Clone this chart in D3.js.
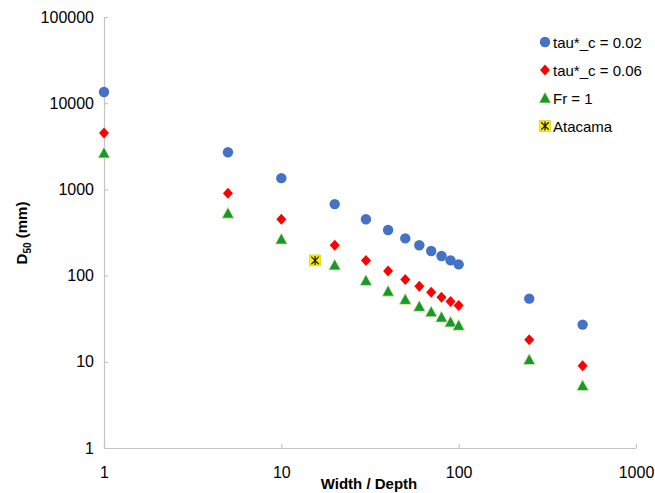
<!DOCTYPE html>
<html>
<head>
<meta charset="utf-8">
<script src="https://cdn.jsdelivr.net/npm/d3@7"></script>
<style>
  html, body { margin: 0; padding: 0; background: #fff; }
  svg { display: block; font-family: "Liberation Sans", Arial, sans-serif; }
</style>
</head>
<body>
<svg id="chart" width="655" height="493"></svg>
<script>
const widthDepth = [1, 5, 10, 20, 30, 40, 50, 60, 70, 80, 90, 100, 250, 500];
const tau002 = [13500, 2700, 1350, 675, 450, 338, 270, 225, 193, 169, 150, 135, 54, 27];
const tau006 = [4500, 900, 450, 225, 150, 113, 90, 75, 64, 56, 50, 45, 18, 9];
const fr1 = [2650, 530, 265, 133, 88, 66, 53, 44, 38, 33, 29, 26.5, 10.6, 5.3];
const atacamaX = [15.5];
const atacamaY = [150];
const xTicks = [1, 10, 100, 1000];
const yTicks = [1, 10, 100, 1000, 10000, 100000];
const seriesNames = ["tau*_c = 0.02", "tau*_c = 0.06", "Fr = 1", "Atacama"];

const svg = d3.select("#chart");
const x = d3.scaleLog().domain([1, 1000]).range([104, 636]);
const y = d3.scaleLog().domain([1, 100000]).range([448, 17]);
const axisColor = "#c8c3c3";

// axes
const xAxis = svg.append("g").attr("transform", "translate(0,448)")
  .call(d3.axisBottom(x).tickValues(xTicks).tickFormat(d3.format("d")).tickSizeInner(-4).tickSizeOuter(0).tickPadding(16));
const yAxis = svg.append("g").attr("transform", "translate(104,0)")
  .call(d3.axisLeft(y).tickValues(yTicks).tickFormat(d3.format("d")).tickSizeInner(-4).tickSizeOuter(0).tickPadding(10));
[xAxis, yAxis].forEach(g => {
  g.select(".domain").attr("stroke", axisColor).attr("stroke-width", 1.2);
  g.selectAll(".tick line").attr("stroke", axisColor).attr("stroke-width", 1.2);
  g.selectAll(".tick text").attr("fill", "#000").style("font-size", "16px")
    .style("font-family", "'Liberation Sans', Arial, sans-serif");
});
xAxis.selectAll(".tick text").attr("dy", "0.9em");

// titles
svg.append("text").attr("x", 369).attr("y", 489).attr("text-anchor", "middle")
  .style("font-size", "15px").style("font-weight", "bold").text("Width / Depth");
const yt = svg.append("text").attr("transform", "translate(27,233) rotate(-90)")
  .attr("text-anchor", "middle").style("font-size", "15px").style("font-weight", "bold");
yt.append("tspan").text("D");
yt.append("tspan").attr("dy", 4).style("font-size", "10px").text("50");
yt.append("tspan").attr("dy", -4).text(" (mm)");

// marker draws
const blue = "#4472c4", red = "#ff0000", green = "#159a2b";
function circle(g, cx, cy) {
  g.append("circle").attr("cx", cx).attr("cy", cy).attr("r", 5.2).attr("fill", blue);
}
function diamond(g, cx, cy) {
  g.append("path").attr("d", `M${cx},${cy-5.5}L${cx+5},${cy}L${cx},${cy+5.5}L${cx-5},${cy}Z`).attr("fill", red);
}
function triangle(g, cx, cy) {
  g.append("path").attr("d", `M${cx},${cy-6}L${cx+6},${cy+5}L${cx-6},${cy+5}Z`)
    .attr("fill", green).attr("stroke", "#e8e6b0").attr("stroke-width", 0.8);
}
function star(g, cx, cy) {
  g.append("rect").attr("x", cx-5.5).attr("y", cy-5.5).attr("width", 11).attr("height", 11)
    .attr("fill", "#ffee00").attr("stroke", "#d8c800").attr("stroke-width", 0.6);
  g.append("path").attr("d", `M${cx-3.8},${cy-3.8}L${cx+3.8},${cy+3.8}M${cx+3.8},${cy-3.8}L${cx-3.8},${cy+3.8}M${cx},${cy-4.5}L${cx},${cy+4.5}`)
    .attr("stroke", "#222").attr("stroke-width", 1.3).attr("fill", "none");
}

const pts = svg.append("g");
widthDepth.forEach((w, i) => circle(pts, x(w), y(tau002[i])));
widthDepth.forEach((w, i) => diamond(pts, x(w), y(tau006[i])));
widthDepth.forEach((w, i) => triangle(pts, x(w), y(fr1[i])));
atacamaX.forEach((w, i) => star(pts, x(w), y(atacamaY[i])));

// legend
const leg = svg.append("g");
const markers = [circle, diamond, triangle, star];
seriesNames.forEach((n, i) => {
  const ly = 42 + i * 28;
  markers[i](leg, 545, ly);
  leg.append("text").attr("x", 553).attr("y", ly + 5.5).style("font-size", "15px").text(n);
});
</script>
</body>
</html>
